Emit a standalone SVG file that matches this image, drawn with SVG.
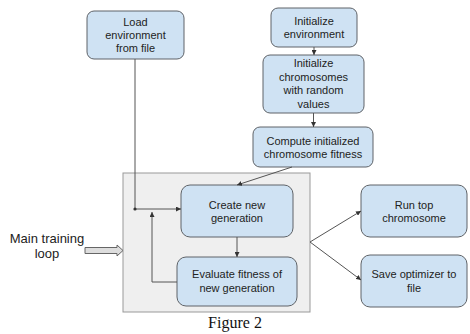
<svg xmlns="http://www.w3.org/2000/svg" width="470" height="334" viewBox="0 0 470 334">
<defs>
<style>
.box{fill:#cfe2f3;stroke:#5f6368;stroke-width:1}
.t{font-family:"Liberation Sans",Arial,sans-serif;font-size:11px;fill:#222;text-anchor:middle}
.c{fill:none;stroke:#555;stroke-width:1}
</style>
<marker id="ah" viewBox="0 0 6 6" refX="6" refY="3" markerWidth="5" markerHeight="5" orient="auto"><path d="M0,0 L6,3 L0,6 z" fill="#333"/></marker>
</defs>
<rect width="470" height="334" fill="#fff"/>
<g id="loop-container">
<rect x="123" y="173" width="187" height="139" fill="#efefef" stroke="#999"/>
</g>
<g id="load-env">
<rect class="box" x="87" y="11" width="97" height="48" rx="7"/>
<text class="t" x="135.5" y="26">Load</text>
<text class="t" x="135.5" y="39">environment</text>
<text class="t" x="135.5" y="52">from file</text>
</g>
<g id="init-env">
<rect class="box" x="271" y="8" width="86" height="39" rx="7"/>
<text class="t" x="314" y="25">Initialize</text>
<text class="t" x="314" y="38">environment</text>
</g>
<g id="init-chrom">
<rect class="box" x="263" y="55" width="101" height="58" rx="7"/>
<text class="t" x="313.5" y="67">Initialize</text>
<text class="t" x="313.5" y="81">chromosomes</text>
<text class="t" x="313.5" y="94">with random</text>
<text class="t" x="313.5" y="108">values</text>
</g>
<g id="compute-fitness">
<rect class="box" x="253" y="127" width="120" height="40" rx="7"/>
<text class="t" x="313" y="145">Compute initialized</text>
<text class="t" x="313" y="158">chromosome fitness</text>
</g>
<g id="create-gen">
<rect class="box" x="181" y="185" width="112" height="52" rx="9"/>
<text class="t" x="237" y="209">Create new</text>
<text class="t" x="237" y="222">generation</text>
</g>
<g id="evaluate">
<rect class="box" x="177" y="257" width="120" height="49" rx="9"/>
<text class="t" x="237" y="278">Evaluate fitness of</text>
<text class="t" x="237" y="292">new generation</text>
</g>
<g id="run-top">
<rect class="box" x="361" y="185" width="106" height="52" rx="9"/>
<text class="t" x="414" y="209">Run top</text>
<text class="t" x="414" y="222">chromosome</text>
</g>
<g id="save-opt">
<rect class="box" x="361" y="255" width="106" height="52" rx="9"/>
<text class="t" x="414" y="278">Save optimizer to</text>
<text class="t" x="414" y="292">file</text>
</g>
<g id="main-loop-label">
<text font-family="Liberation Sans,Arial,sans-serif" font-size="13" fill="#222" text-anchor="middle" x="47" y="243">Main training</text>
<text font-family="Liberation Sans,Arial,sans-serif" font-size="13" fill="#222" text-anchor="middle" x="47" y="258">loop</text>
<path d="M85,247.5 H117 V245 L123,250.5 L117,256 V253.5 H85 Z" fill="#ddd" stroke="#666" stroke-width="1"/>
</g>
<g id="connectors">
<path class="c" d="M314,47 V55" marker-end="url(#ah)"/>
<path class="c" d="M313.5,113 V127" marker-end="url(#ah)"/>
<path class="c" d="M292,167 L237,185" marker-end="url(#ah)"/>
<path class="c" d="M135,59 V209 H181" marker-end="url(#ah)"/>
<circle cx="135" cy="209" r="1.6" fill="#333"/>
<path class="c" d="M177,282 H152 V212" marker-end="url(#ah)"/>
<path class="c" d="M237,237 V257" marker-end="url(#ah)"/>
<path class="c" d="M310,242 L361,211" marker-end="url(#ah)"/>
<path class="c" d="M310,242 L361,280" marker-end="url(#ah)"/>
</g>
<text font-family="Liberation Serif,'Times New Roman',serif" font-size="16" fill="#111" text-anchor="middle" x="235" y="328">Figure 2</text>
</svg>
